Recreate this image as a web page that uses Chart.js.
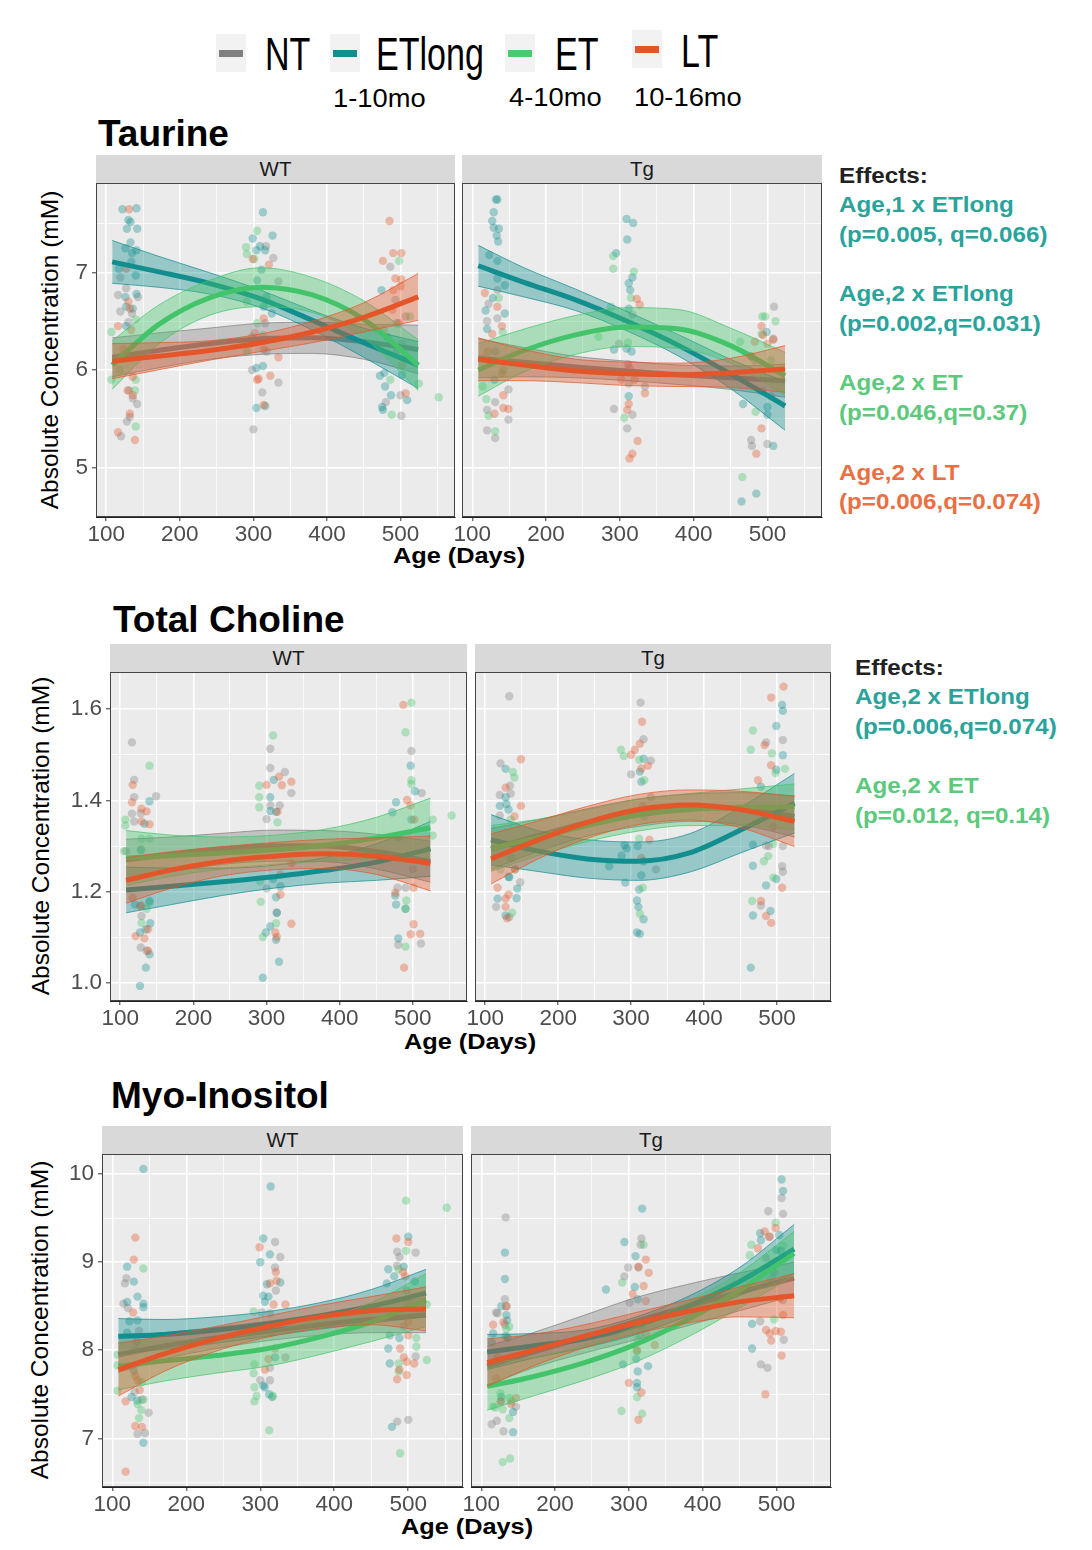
<!DOCTYPE html>
<html>
<head>
<meta charset="utf-8">
<script src="https://cdn.jsdelivr.net/npm/chart.js@4.4.1/dist/chart.umd.min.js"></script>
<style>
  body { margin:0; width:1092px; height:1550px; background:#fff; position:relative; overflow:hidden;
         font-family:"Liberation Sans", Arial, sans-serif; color:#000; }
  .key { position:absolute; width:30px; height:38px; background:#f2f2f2; }
  .key i { position:absolute; left:3px; width:24px; top:16px; height:7px; }
  .leg { position:absolute; font-size:46px; line-height:46px; transform:scaleX(0.74); transform-origin:left; white-space:nowrap; }
  .sub { position:absolute; font-size:26px; line-height:26px; transform:scaleX(1.05); transform-origin:left; white-space:nowrap; }
  .title { position:absolute; font-weight:bold; font-size:37px; line-height:37px; white-space:nowrap; }
  .strip { position:absolute; height:28.5px; line-height:28.5px; background:#d9d9d9; color:#1a1a1a; font-size:20.5px; text-align:center; }
  .ylab { position:absolute; width:400px; height:30px; line-height:30px; text-align:center; font-size:24.5px; transform:rotate(-90deg); white-space:nowrap; }
  .xlab { position:absolute; width:300px; text-align:center; font-weight:bold; font-size:22px; line-height:22px; transform:scaleX(1.15); white-space:nowrap; }
  .fx { position:absolute; font-weight:bold; font-size:22px; line-height:29.7px; transform:scaleX(1.1); transform-origin:left; white-space:pre; }
  canvas { position:absolute; }
</style>
</head>
<body>

<!-- leyenda -->
<div class="key" style="left:216px;top:34px"><i style="background:#808080"></i></div>
<div class="leg" style="left:265px;top:31px">NT</div>
<div class="key" style="left:330px;top:34px"><i style="background:#128e8e"></i></div>
<div class="leg" style="left:376px;top:31px">ETlong</div>
<div class="key" style="left:505px;top:34px"><i style="background:#4cc870"></i></div>
<div class="leg" style="left:555px;top:31px">ET</div>
<div class="key" style="left:632px;top:30px"><i style="background:#e4562a"></i></div>
<div class="leg" style="left:681px;top:28px">LT</div>
<div class="sub" style="left:333px;top:85px">1-10mo</div>
<div class="sub" style="left:509px;top:84px">4-10mo</div>
<div class="sub" style="left:634px;top:84px">10-16mo</div>

<!-- titulos -->
<div class="title" style="left:98px;top:114.7px">Taurine</div>
<div class="title" style="left:113px;top:600.7px">Total Choline</div>
<div class="title" style="left:111px;top:1076.7px">Myo-Inositol</div>

<div class="ylab" style="left:-150px;top:335px">Absolute Concentration (mM)</div>
<div class="ylab" style="left:-159px;top:821px">Absolute Concentration (mM)</div>
<div class="ylab" style="left:-160px;top:1305px">Absolute Concentration (mM)</div>

<div class="xlab" style="left:309px;top:545.4px">Age (Days)</div>
<div class="xlab" style="left:320px;top:1031.4px">Age (Days)</div>
<div class="xlab" style="left:317px;top:1516.4px">Age (Days)</div>

<!-- efectos -->
<div class="fx" style="left:839px;top:160.5px"><div style="color:#222">Effects:</div><div style="color:#2aa39b">Age,1 x ETlong</div><div style="color:#2aa39b">(p=0.005, q=0.066)</div><div> </div><div style="color:#2aa39b">Age,2 x ETlong</div><div style="color:#2aa39b">(p=0.002,q=0.031)</div><div> </div><div style="color:#5cc97c">Age,2 x ET</div><div style="color:#5cc97c">(p=0.046,q=0.37)</div><div> </div><div style="color:#ea6f43">Age,2 x LT</div><div style="color:#ea6f43">(p=0.006,q=0.074)</div></div>
<div class="fx" style="left:855px;top:652.5px"><div style="color:#222">Effects:</div><div style="color:#2aa39b">Age,2 x ETlong</div><div style="color:#2aa39b">(p=0.006,q=0.074)</div><div> </div><div style="color:#5cc97c">Age,2 x ET</div><div style="color:#5cc97c">(p=0.012, q=0.14)</div></div>

<script>
// Grupos: NT, ETlong, ET, LT
const groups = ['NT', 'ETlong', 'ET', 'LT'];
const groupRGB = ['128,128,128', '18,142,142', '67,196,106', '228,86,42'];

// Ejes
const ageTicks = [100, 200, 300, 400, 500];
const tauTicks = [5, 6, 7];
const choTicks = [1.0, 1.2, 1.4, 1.6];
const myoTicks = [7, 8, 9, 10];

// Edades donde se leyeron las curvas ajustadas
const fitAge = [108, 170, 240, 310, 380, 450, 524];

// ---- Taurine WT ----
const tauWT_fit = [
    [6.13, 6.20, 6.27, 6.32, 6.33, 6.29, 6.21],
    [7.11, 7.01, 6.89, 6.73, 6.51, 6.28, 6.05],
    [6.05, 6.46, 6.74, 6.85, 6.77, 6.52, 6.05],
    [6.09, 6.14, 6.20, 6.28, 6.39, 6.54, 6.75]
];
const tauWT_lo = [
    [5.93, 6.02, 6.11, 6.16, 6.17, 6.11, 5.96],
    [6.89, 6.85, 6.78, 6.64, 6.41, 6.13, 5.81],
    [5.80, 6.26, 6.56, 6.65, 6.59, 6.33, 5.79],
    [5.91, 6.00, 6.10, 6.19, 6.28, 6.39, 6.51]
];
const tauWT_hi = [
    [6.33, 6.38, 6.43, 6.48, 6.49, 6.47, 6.46],
    [7.33, 7.17, 7.00, 6.82, 6.61, 6.43, 6.29],
    [6.30, 6.66, 6.92, 7.05, 6.95, 6.71, 6.31],
    [6.27, 6.28, 6.30, 6.37, 6.50, 6.69, 6.99]
];
const tauWT_pts = [
    [[116,6.77],[127,6.84],[119,6.95],[119,6.60],[135,6.58],[130,6.49],[143,6.75],[131,5.79],[142,5.65],[128,5.47],[120,5.32],[136,5.71],[132,5.52],
     [317,7.27],[327,7.15],[334,6.91],[298,6.34],[316,6.48],[318,6.19],[298,6.00],[334,5.87],[312,5.77],[300,5.39],
     [486,7.06],[493,6.72],[507,6.55],[502,6.27],[500,5.74],[501,5.53],[480,5.67]],
    [[122,7.65],[141,7.66],[130,7.54],[133,7.52],[128,7.45],[142,7.45],[133,7.31],[126,7.25],[135,7.20],[141,7.23],[134,7.11],[117,7.04],[140,6.97],[126,6.75],[141,6.78],[127,6.65],[127,6.45],[136,6.63],
     [313,7.62],[299,7.35],[326,7.38],[309,7.27],[304,7.23],[316,7.23],[311,7.03],[305,6.92],[318,6.75],[314,6.65],[325,6.58],[304,6.02],[313,6.04],[304,5.61],[316,5.63],
     [474,6.82],[495,6.48],[482,6.34],[495,6.21],[472,5.94],[478,5.97],[479,5.83],[487,5.74],[509,5.69],[475,5.62],[476,5.59],[502,5.95]],
    [[107,6.39],[140,6.52],[107,5.90],[140,5.90],[140,5.42],[118,6.00],[139,5.79],
     [305,7.43],[290,7.26],[291,7.19],[301,7.14],[291,6.70],[305,6.48],[291,6.19],[313,6.36],
     [498,7.12],[513,6.55],[486,5.90],[525,5.86],[488,5.54],[552,5.72]],
    [[131,7.65],[127,7.04],[130,6.70],[116,6.45],[132,6.63],[134,6.41],[129,5.79],[136,5.74],[132,5.55],[116,5.36],[139,5.28],[136,5.93],[123,6.21],
     [299,7.14],[321,7.08],[314,6.53],[302,6.38],[314,6.21],[334,6.13],[307,5.91],[323,5.94],[314,5.64],[305,5.90],
     [485,7.53],[490,7.20],[501,7.20],[476,7.12],[501,6.93],[493,6.94],[490,6.82],[500,6.86],[489,6.62],[498,6.48],[477,6.41],[507,5.76],[502,6.05]]
];

// ---- Taurine Tg ----
const tauTg_fit = [
    [6.12, 6.08, 6.03, 5.99, 5.95, 5.92, 5.89],
    [7.07, 6.90, 6.72, 6.50, 6.25, 5.96, 5.63],
    [6.00, 6.20, 6.36, 6.44, 6.42, 6.25, 5.94],
    [6.11, 6.05, 5.99, 5.96, 5.95, 5.97, 6.01]
];
const tauTg_lo = [
    [5.92, 5.93, 5.92, 5.89, 5.85, 5.80, 5.72],
    [6.86, 6.75, 6.61, 6.40, 6.14, 5.81, 5.38],
    [5.73, 5.98, 6.16, 6.24, 6.22, 6.07, 5.74],
    [5.89, 5.89, 5.87, 5.84, 5.83, 5.82, 5.77]
];
const tauTg_hi = [
    [6.32, 6.23, 6.14, 6.09, 6.05, 6.04, 6.06],
    [7.28, 7.05, 6.83, 6.60, 6.36, 6.11, 5.88],
    [6.27, 6.42, 6.56, 6.64, 6.62, 6.43, 6.18],
    [6.33, 6.21, 6.11, 6.08, 6.07, 6.12, 6.25]
];
const tauTg_pts = [
    [[134,6.82],[122,6.68],[134,6.53],[120,6.50],[149,5.80],[120,5.59],[149,5.49],[120,5.38],[131,5.30],[131,5.67],
     [317,6.57],[299,6.27],[311,6.06],[334,5.83],[292,5.60],[317,5.54],[310,5.40],[312,5.86],
     [509,6.65],[508,6.32],[478,5.28],[479,5.22],[500,5.24],[483,6.10]],
    [[132,7.75],[134,7.75],[129,7.62],[127,7.53],[129,7.46],[136,7.45],[133,7.38],[135,7.32],[123,7.18],[134,7.12],[134,6.94],[144,6.87],[128,6.74],[118,6.61],[144,6.58],[120,6.42],[131,6.19],[130,5.90],
     [309,7.55],[318,7.51],[310,7.34],[295,7.20],[317,6.95],[312,6.89],[314,6.82],[312,6.63],[309,6.22],[292,6.21],[316,6.19],[312,5.73],
     [499,6.39],[493,5.78],[500,5.62],[467,5.65],[500,5.54],[508,5.22],[485,4.73],[465,4.65],[478,6.14]],
    [[136,6.74],[141,6.39],[114,5.83],[119,5.70],[122,5.53],[131,5.37],[142,6.00],
     [291,7.17],[291,7.04],[319,7.01],[288,6.65],[271,6.34],[311,6.28],[306,5.51],[315,6.74],
     [493,6.55],[497,6.55],[511,6.50],[463,6.29],[492,6.37],[484,5.57],[466,4.90],[505,6.10]],
    [[117,6.79],[134,6.65],[127,6.37],[140,6.45],[121,6.19],[142,5.74],[130,5.55],[142,5.61],[149,5.60],[140,5.97],[115,6.12],
     [323,6.73],[327,6.67],[302,5.90],[320,5.90],[334,5.76],[312,5.65],[310,5.59],[324,5.27],[317,5.14],[313,5.09],[313,6.02],
     [492,6.45],[494,6.36],[508,6.31],[500,6.27],[483,6.29],[492,5.40],[485,5.14],[478,6.14],[505,5.73]]
];

// ---- Total Choline WT ----
const choWT_fit = [
    [1.270, 1.282, 1.294, 1.301, 1.300, 1.288, 1.266],
    [1.204, 1.212, 1.222, 1.233, 1.247, 1.265, 1.294],
    [1.274, 1.279, 1.285, 1.292, 1.302, 1.318, 1.340],
    [1.225, 1.248, 1.267, 1.278, 1.283, 1.278, 1.262]
];
const choWT_lo = [
    [1.225, 1.244, 1.260, 1.267, 1.266, 1.250, 1.221],
    [1.154, 1.172, 1.192, 1.208, 1.219, 1.225, 1.234],
    [1.214, 1.234, 1.250, 1.260, 1.267, 1.273, 1.275],
    [1.175, 1.208, 1.235, 1.248, 1.251, 1.238, 1.202]
];
const choWT_hi = [
    [1.315, 1.320, 1.328, 1.335, 1.334, 1.326, 1.311],
    [1.254, 1.252, 1.252, 1.258, 1.275, 1.305, 1.354],
    [1.334, 1.324, 1.320, 1.324, 1.337, 1.363, 1.405],
    [1.275, 1.288, 1.299, 1.308, 1.315, 1.318, 1.322]
];
const choWT_pts = [
    [[116,1.527],[119,1.445],[119,1.407],[116,1.371],[128,1.372],[119,1.354],[149,1.409],[128,1.078],[136,1.071],[129,1.147],[108,1.289],
     [305,1.513],[305,1.471],[325,1.462],[334,1.416],[305,1.389],[318,1.389],[300,1.359],[300,1.207],[314,1.154],
     [498,1.508],[512,1.416],[479,1.209],[490,1.209],[480,1.084],[511,1.087],[500,1.249]],
    [[140,1.398],[133,1.349],[128,1.292],[120,1.172],[140,1.180],[141,1.131],[127,1.111],[135,1.118],[140,1.063],[135,1.034],[127,0.994],
     [310,1.445],[305,1.407],[305,1.377],[313,1.375],[319,1.212],[313,1.188],[314,1.154],[305,1.124],[299,1.111],[313,1.095],[317,1.047],[295,1.012],[309,1.228],
     [497,1.476],[503,1.420],[477,1.396],[472,1.374],[480,1.319],[476,1.192],[477,1.172],[490,1.163],[480,1.098],[498,1.358]],
    [[140,1.476],[107,1.358],[107,1.345],[105,1.289],[129,1.316],[140,1.316],[129,1.292],[129,1.132],[140,1.176],[136,1.163],
     [309,1.542],[290,1.432],[290,1.407],[290,1.385],[315,1.352],[291,1.223],[292,1.178],[295,1.101],[313,1.131],
     [498,1.614],[490,1.549],[498,1.444],[498,1.436],[527,1.358],[527,1.323],[491,1.181],[490,1.080],[553,1.367],[490,1.163]],
    [[117,1.434],[116,1.396],[129,1.382],[136,1.376],[140,1.348],[129,1.354],[117,1.187],[127,1.169],[121,1.103],[133,1.098],[138,1.071],[129,1.170],[138,1.118],
     [317,1.452],[300,1.434],[321,1.433],[334,1.441],[315,1.375],[319,1.238],[334,1.263],[334,1.130],[312,1.111],[314,1.101],[319,1.194],
     [487,1.609],[492,1.401],[497,1.389],[502,1.358],[501,1.209],[501,1.129],[497,1.107],[510,1.108],[488,1.034],[476,1.198]]
];

// ---- Total Choline Tg ----
const choTg_fit = [
    [1.294, 1.322, 1.352, 1.373, 1.384, 1.382, 1.365],
    [1.314, 1.290, 1.272, 1.267, 1.285, 1.335, 1.394],
    [1.295, 1.318, 1.345, 1.368, 1.380, 1.385, 1.386],
    [1.272, 1.312, 1.352, 1.380, 1.390, 1.380, 1.354]
];
const choTg_lo = [
    [1.249, 1.287, 1.322, 1.343, 1.354, 1.347, 1.320],
    [1.259, 1.245, 1.230, 1.225, 1.243, 1.285, 1.329],
    [1.245, 1.278, 1.310, 1.333, 1.345, 1.345, 1.336],
    [1.217, 1.270, 1.317, 1.347, 1.357, 1.340, 1.299]
];
const choTg_hi = [
    [1.339, 1.357, 1.382, 1.403, 1.414, 1.417, 1.410],
    [1.369, 1.335, 1.314, 1.309, 1.327, 1.385, 1.459],
    [1.345, 1.358, 1.380, 1.403, 1.415, 1.425, 1.436],
    [1.327, 1.354, 1.387, 1.413, 1.423, 1.420, 1.409]
];
const choTg_pts = [
    [[133,1.628],[121,1.481],[134,1.432],[120,1.412],[135,1.415],[120,1.367],[148,1.221],[115,1.167],[133,1.145],[123,1.303],
     [313,1.614],[317,1.534],[327,1.487],[300,1.457],[327,1.407],[334,1.249],[318,1.365],
     [485,1.527],[508,1.532],[485,1.301],[508,1.300],[507,1.256],[508,1.244],[478,1.170],[489,1.300]],
    [[128,1.469],[128,1.407],[120,1.388],[129,1.392],[132,1.380],[136,1.274],[133,1.232],[144,1.207],[143,1.186],[117,1.185],[128,1.148],[132,1.233],
     [317,1.491],[312,1.463],[314,1.441],[291,1.302],[294,1.295],[309,1.300],[287,1.279],[317,1.267],[314,1.236],[270,1.256],[292,1.220],[311,1.205],[308,1.181],[310,1.167],[317,1.140],[308,1.111],[312,1.108],
     [507,1.609],[508,1.596],[499,1.563],[508,1.499],[499,1.467],[467,1.303],[467,1.257],[499,1.228],[485,1.214],[491,1.158],[467,1.148],[464,1.034],[478,1.430]],
    [[138,1.462],[140,1.450],[135,1.358],[137,1.154],[121,1.249],[141,1.249],
     [286,1.511],[290,1.497],[311,1.489],[318,1.444],[311,1.316],[316,1.209],[312,1.152],
     [467,1.553],[464,1.511],[493,1.503],[511,1.469],[498,1.460],[488,1.278],[482,1.267],[495,1.231],[466,1.180],[495,1.305]],
    [[149,1.490],[128,1.428],[149,1.388],[140,1.365],[117,1.209],[128,1.185],[132,1.194],[128,1.167],[130,1.142],[141,1.249],
     [315,1.572],[312,1.524],[305,1.511],[300,1.500],[323,1.476],[314,1.470],[314,1.274],[325,1.314],[316,1.388],
     [509,1.649],[492,1.625],[483,1.521],[492,1.477],[474,1.444],[507,1.209],[478,1.180],[485,1.147],[492,1.132],[495,1.343]]
];

// ---- Myo-Inositol WT ----
const myoWT_fit = [
    [7.95, 8.05, 8.14, 8.22, 8.29, 8.35, 8.40],
    [8.16, 8.18, 8.23, 8.30, 8.39, 8.50, 8.65],
    [7.82, 7.88, 7.94, 8.02, 8.15, 8.32, 8.57],
    [7.78, 7.96, 8.13, 8.27, 8.38, 8.45, 8.47]
];
const myoWT_lo = [
    [7.75, 7.90, 8.02, 8.11, 8.17, 8.20, 8.20],
    [7.96, 8.01, 8.08, 8.16, 8.24, 8.31, 8.38],
    [7.55, 7.65, 7.74, 7.82, 7.95, 8.10, 8.27],
    [7.48, 7.76, 7.99, 8.15, 8.25, 8.29, 8.22]
];
const myoWT_hi = [
    [8.15, 8.20, 8.26, 8.33, 8.41, 8.50, 8.60],
    [8.36, 8.35, 8.38, 8.44, 8.54, 8.69, 8.92],
    [8.09, 8.11, 8.14, 8.22, 8.35, 8.54, 8.87],
    [8.08, 8.16, 8.27, 8.39, 8.51, 8.61, 8.72]
];
const myoWT_pts = [
    [[119,8.82],[117,8.76],[115,8.53],[121,8.48],[136,8.22],[131,8.00],[149,7.29],[144,7.06],[134,7.05],[130,7.53],[140,7.44],
     [320,9.23],[327,9.06],[320,8.94],[321,8.68],[302,8.43],[313,8.42],[334,7.92],[300,7.66],[313,7.66],[313,7.80],
     [485,9.12],[488,9.06],[510,9.11],[485,8.96],[498,8.68],[494,8.27],[510,7.93],[485,7.19],[500,7.21]],
    [[142,10.06],[120,8.95],[129,8.78],[134,8.61],[120,8.55],[142,8.53],[142,8.49],[123,8.33],[134,8.34],[120,8.20],[133,8.10],[126,7.47],[134,7.43],[142,6.95],[129,7.77],
     [314,9.86],[304,9.27],[313,9.09],[300,9.00],[309,8.75],[304,8.62],[311,8.61],[327,8.77],[306,8.55],[304,7.60],[306,7.58],[312,7.50],[316,7.47],[320,7.92],
     [500,9.29],[473,8.92],[481,8.84],[494,8.95],[509,8.78],[471,8.76],[475,8.17],[488,8.14],[473,8.02],[475,7.85],[478,7.13]],
    [[142,8.93],[107,7.95],[107,7.83],[107,7.54],[140,7.64],[142,7.44],[139,7.32],[136,7.23],[134,7.39],
     [291,8.44],[292,7.84],[291,7.74],[292,7.58],[295,7.48],[292,7.42],[312,7.09],[317,7.48],[314,8.20],
     [497,9.70],[552,9.62],[497,9.13],[487,8.92],[501,8.52],[511,8.14],[511,8.04],[525,7.89],[487,7.85],[487,7.76],[489,6.83],[525,8.52]],
    [[131,9.28],[129,9.03],[128,8.43],[131,7.71],[118,7.42],[131,7.14],[140,7.13],[118,6.62],[137,7.55],[134,7.66],
     [299,9.17],[321,8.89],[322,8.79],[313,8.76],[318,8.52],[334,8.52],[306,7.78],[320,8.02],[311,7.90],
     [484,9.27],[500,9.23],[493,8.89],[496,8.84],[500,8.32],[500,8.17],[489,8.02],[494,7.92],[498,7.87],[508,7.85],[488,7.78],[498,7.72],[485,7.67]]
];

// ---- Myo-Inositol Tg ----
const myoTg_fit = [
    [7.82, 7.98, 8.15, 8.33, 8.50, 8.66, 8.82],
    [7.98, 8.05, 8.13, 8.28, 8.50, 8.78, 9.15],
    [7.59, 7.70, 7.86, 8.07, 8.35, 8.68, 9.10],
    [7.86, 8.00, 8.16, 8.31, 8.44, 8.55, 8.62]
];
const myoTg_lo = [
    [7.60, 7.80, 7.97, 8.12, 8.28, 8.45, 8.62],
    [7.78, 7.91, 8.03, 8.18, 8.39, 8.62, 8.87],
    [7.32, 7.48, 7.66, 7.87, 8.15, 8.48, 8.85],
    [7.59, 7.82, 8.03, 8.19, 8.31, 8.38, 8.37]
];
const myoTg_hi = [
    [8.05, 8.20, 8.40, 8.60, 8.75, 8.88, 9.00],
    [8.18, 8.19, 8.23, 8.38, 8.61, 8.94, 9.43],
    [7.86, 7.92, 8.06, 8.27, 8.55, 8.88, 9.35],
    [8.13, 8.18, 8.29, 8.43, 8.57, 8.72, 8.87]
];
const myoTg_pts = [
    [[133,9.51],[132,8.58],[122,8.42],[134,8.50],[120,8.43],[132,8.29],[122,7.87],[147,7.36],[121,7.20],[114,7.16],[130,7.08],[127,7.42],
     [317,9.27],[316,9.20],[299,8.94],[313,8.94],[294,8.84],[301,8.54],[316,8.28],[315,8.17],
     [507,9.73],[489,9.58],[509,9.55],[490,9.29],[486,9.05],[509,8.57],[478,8.33],[510,8.12],[479,7.84],[488,7.80]],
    [[132,9.11],[132,8.81],[127,8.50],[134,8.40],[135,8.34],[133,8.16],[116,8.19],[136,8.14],[114,8.09],[143,7.30],[143,7.07],[127,7.47],
     [318,9.61],[294,9.23],[309,9.07],[269,8.69],[308,8.72],[312,8.58],[310,7.90],[326,7.82],[312,7.76],[311,7.63],[311,7.58],[292,7.84],
     [507,9.94],[509,9.81],[478,9.33],[479,9.25],[500,9.14],[506,9.13],[497,8.88],[467,8.30],[467,8.02],[504,9.31]],
    [[138,8.27],[134,8.24],[126,7.51],[138,7.46],[141,7.42],[119,7.35],[129,7.33],[138,7.23],[129,6.73],[139,6.77],[116,7.36],
     [320,9.20],[291,8.77],[311,7.99],[311,7.47],[290,7.31],[318,7.28],[312,8.12],
     [499,9.45],[466,9.20],[464,9.08],[497,8.35],[509,9.19],[492,8.80]],
    [[116,8.29],[134,8.50],[130,8.32],[120,7.68],[140,7.39],[147,7.46],[126,7.42],[122,7.92],
     [323,9.03],[313,8.95],[327,8.88],[320,8.73],[305,8.64],[323,8.56],[311,8.00],[300,7.63],[317,7.52],[313,7.21],[335,8.06],[323,8.19],
     [499,9.39],[484,9.35],[491,9.29],[475,9.16],[505,8.59],[486,8.23],[499,8.22],[491,8.19],[506,8.21],[493,8.11],[507,7.94],[485,7.50],[509,8.40]]
];

// Maquetación de cada fila de paneles
const rows = [
    { yMin: 4.49, yMax: 7.92, ticks: tauTicks, grid: [5, 7.5, 0.5], fmt: v => String(v),
      top: 183, bottom: 517, wt: [96, 455], tg: [462, 822],
      WT: [tauWT_fit, tauWT_lo, tauWT_hi, tauWT_pts], Tg: [tauTg_fit, tauTg_lo, tauTg_hi, tauTg_pts] },
    { yMin: 0.961, yMax: 1.681, ticks: choTicks, grid: [1.0, 1.6, 0.1], fmt: v => v.toFixed(1),
      top: 672, bottom: 1001, wt: [110, 467], tg: [475, 831],
      WT: [choWT_fit, choWT_lo, choWT_hi, choWT_pts], Tg: [choTg_fit, choTg_lo, choTg_hi, choTg_pts] },
    { yMin: 6.447, yMax: 10.23, ticks: myoTicks, grid: [6.5, 10, 0.5], fmt: v => String(v),
      top: 1154, bottom: 1487, wt: [102, 463], tg: [471, 831],
      WT: [myoWT_fit, myoWT_lo, myoWT_hi, myoWT_pts], Tg: [myoTg_fit, myoTg_lo, myoTg_hi, myoTg_pts] }
];

const FONT = '"Liberation Sans", Arial, sans-serif';
const rgba = (c, a) => 'rgba(' + c + ',' + a + ')';
const isIn = (list, v) => list.some(t => Math.abs(t - v) < 1e-6);

const panelBg = {
    id: 'panelBg',
    beforeDraw(chart) {
        const a = chart.chartArea, c = chart.ctx;
        c.save();
        c.fillStyle = '#ebebeb';
        c.fillRect(a.left, a.top, a.width, a.height);
        c.restore();
    },
    afterDraw(chart) {
        const a = chart.chartArea, c = chart.ctx;
        c.save();
        c.strokeStyle = '#444';
        c.lineWidth = 1;
        c.strokeRect(a.left + 0.5, a.top + 0.5, a.width - 1, a.height - 1);
        c.restore();
    }
};

const xGrid = [];
for (let v = 100; v <= 550; v += 50) xGrid.push(v);

function drawPanel(row, side) {
    const isWT = side === 'WT';
    const [L, R] = isWT ? row.wt : row.tg;
    const W = R - L, H = row.bottom - row.top;
    const padL = isWT ? 70 : 30;

    const strip = document.createElement('div');
    strip.className = 'strip';
    strip.style.left = L + 'px';
    strip.style.top = (row.top - 28.5) + 'px';
    strip.style.width = W + 'px';
    strip.textContent = side;
    document.body.appendChild(strip);

    const cv = document.createElement('canvas');
    cv.width = W + padL + 20;
    cv.height = H + 60;
    cv.style.left = (L - padL) + 'px';
    cv.style.top = (row.top - 20) + 'px';
    document.body.appendChild(cv);

    const yGrid = [];
    for (let v = row.grid[0]; v <= row.grid[1] + 1e-9; v += row.grid[2]) yGrid.push(+v.toFixed(3));

    const [fit, lo, hi, pts] = row[side];
    const datasets = [];
    let seq = 0;
    const xy = arr => fitAge.map((a, i) => ({ x: a, y: arr[i] }));

    // puntos primero (debajo de todo)
    groups.forEach((g, k) => {
        datasets.push({
            type: 'scatter', label: g, data: pts[k].map(p => ({ x: p[0], y: p[1] })),
            backgroundColor: rgba(groupRGB[k], 0.36), borderWidth: 0, pointRadius: 4.2,
            order: 1000 - seq++
        });
    });
    // banda + curva por grupo
    groups.forEach((g, k) => {
        const band = {
            type: 'line', pointRadius: 0, borderWidth: 0.8,
            borderColor: rgba(groupRGB[k], 0.9), cubicInterpolationMode: 'monotone'
        };
        datasets.push(Object.assign({}, band, { data: xy(hi[k]), fill: '+1',
            backgroundColor: rgba(groupRGB[k], 0.38), order: 1000 - seq++ }));
        datasets.push(Object.assign({}, band, { data: xy(lo[k]), fill: false, order: 1000 - seq++ }));
        datasets.push({
            type: 'line', label: g, data: xy(fit[k]), borderColor: rgba(groupRGB[k], 1),
            borderWidth: 5, pointRadius: 0, fill: false, cubicInterpolationMode: 'monotone',
            order: 1000 - seq++
        });
    });

    new Chart(cv.getContext('2d'), {
        type: 'line',
        data: { datasets },
        plugins: [panelBg],
        options: {
            responsive: false,
            animation: false,
            events: [],
            layout: { padding: { top: 20, right: 20, bottom: 0, left: isWT ? 0 : 30 } },
            plugins: { legend: { display: false }, tooltip: { enabled: false } },
            scales: {
                x: {
                    type: 'linear', min: 86, max: 574,
                    afterBuildTicks: s => { s.ticks = xGrid.map(v => ({ value: v })); },
                    afterFit: s => { s.height = 40; },
                    ticks: {
                        autoSkip: false, maxRotation: 0, padding: 0, color: '#4d4d4d',
                        font: { family: FONT, size: 22.5 },
                        callback: v => isIn(ageTicks, v) ? String(v) : ''
                    },
                    grid: {
                        color: '#ffffff', tickLength: 4, tickWidth: 1,
                        lineWidth: c => isIn(ageTicks, c.tick.value) ? 1.6 : 0.8,
                        tickColor: c => isIn(ageTicks, c.tick.value) ? '#333' : 'rgba(0,0,0,0)'
                    },
                    border: { display: true, color: '#222', width: 1 }
                },
                y: {
                    type: 'linear', min: row.yMin, max: row.yMax,
                    afterBuildTicks: s => { s.ticks = yGrid.map(v => ({ value: v })); },
                    afterFit: s => { s.width = isWT ? 70 : 0; },
                    ticks: {
                        display: isWT, padding: 4, color: '#4d4d4d',
                        font: { family: FONT, size: 22.5 },
                        callback: v => isIn(row.ticks, v) ? row.fmt(v) : ''
                    },
                    grid: {
                        color: '#ffffff', tickLength: 4, tickWidth: 1, drawTicks: isWT,
                        lineWidth: c => isIn(row.ticks, c.tick.value) ? 1.6 : 0.8,
                        tickColor: c => isIn(row.ticks, c.tick.value) ? '#333' : 'rgba(0,0,0,0)'
                    },
                    border: { display: true, color: '#222', width: 1 }
                }
            }
        }
    });
}

rows.forEach(r => { drawPanel(r, 'WT'); drawPanel(r, 'Tg'); });
</script>
</body>
</html>
